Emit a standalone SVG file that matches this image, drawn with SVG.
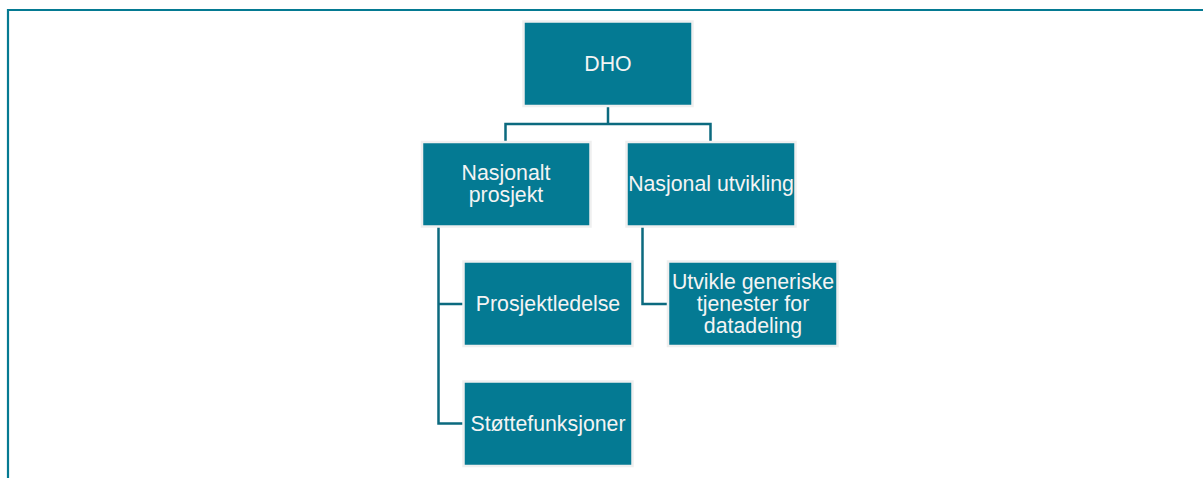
<svg xmlns="http://www.w3.org/2000/svg" width="1203" height="478" viewBox="0 0 1203 478">
<style>
.box{fill:#047a93;stroke:#efefef;stroke-width:2.5}
.lbl{font-family:"Liberation Sans",Arial,sans-serif;font-size:21.3px;fill:#f4f4f4;text-anchor:middle}
.con{fill:none;stroke:#0b6a7f;stroke-width:2.5}
</style>
<rect width="1203" height="478" fill="#ffffff"/>
<path d="M8,478 V10 H1203" fill="none" stroke="#057a92" stroke-width="2.2"/>
<g id="connectors">
<path class="con" d="M608,107 V124 M505.5,141 V124 H710.5 V141"/>
<path class="con" d="M438.5,226 V423.5 H463 M438.5,304 H463"/>
<path class="con" d="M642.5,226 V304 H668"/>
</g>
<g id="n-dho"><rect class="box" x="523.5" y="21.5" width="169" height="84.5"/><text class="lbl" x="608" y="71">DHO</text></g>
<g id="n-nasjonalt"><rect class="box" x="422" y="142" width="168.5" height="84.5"/><text class="lbl" x="506" y="180">Nasjonalt</text><text class="lbl" x="506" y="202">prosjekt</text></g>
<g id="n-utvikling"><rect class="box" x="626.5" y="142" width="169" height="84.5"/><text class="lbl" x="711" y="191">Nasjonal utvikling</text></g>
<g id="n-prosjektledelse"><rect class="box" x="463.5" y="261.5" width="169" height="84.5"/><text class="lbl" x="548" y="311">Prosjektledelse</text></g>
<g id="n-stotte"><rect class="box" x="463.5" y="381.5" width="169" height="84.5"/><text class="lbl" x="548" y="431">Støttefunksjoner</text></g>
<g id="n-generiske"><rect class="box" x="668" y="261.5" width="169.5" height="84.5"/><text class="lbl" x="753" y="289">Utvikle generiske</text><text class="lbl" x="753" y="311">tjenester for</text><text class="lbl" x="753" y="333">datadeling</text></g>
</svg>
